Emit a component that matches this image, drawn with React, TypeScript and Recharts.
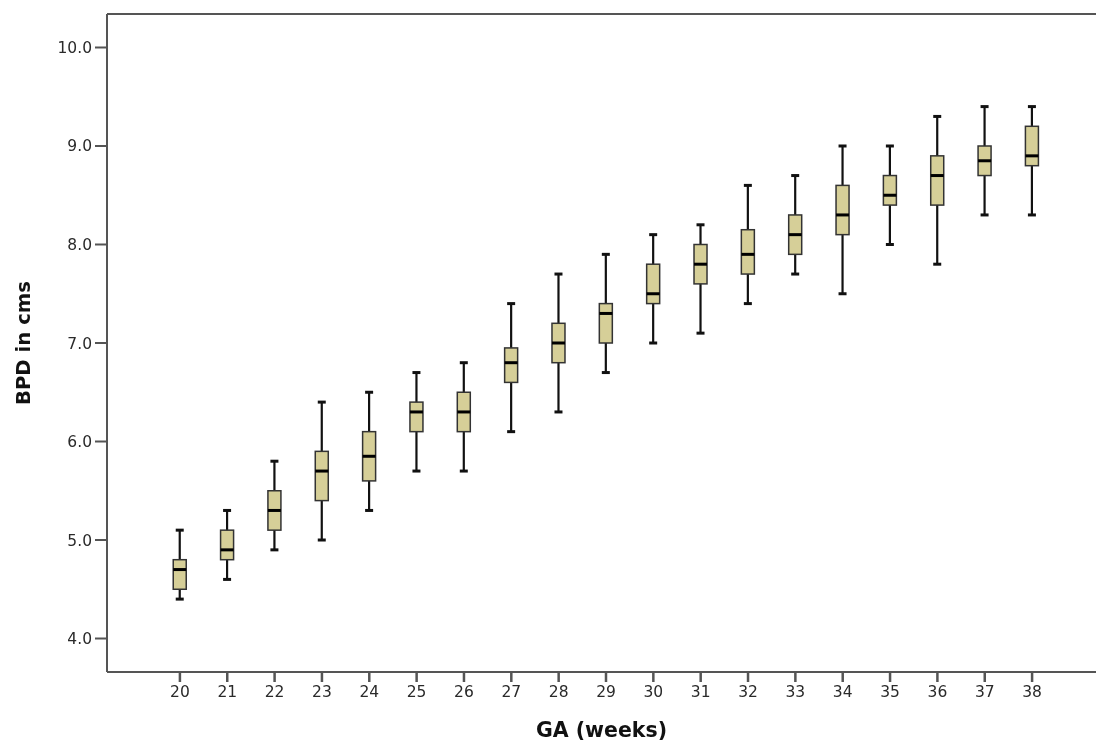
import { Bar, ComposedChart, ReferenceLine, XAxis, YAxis } from "recharts";

// gestational age in weeks, one box per week
const weeks = [20, 21, 22, 23, 24, 25, 26, 27, 28, 29, 30, 31, 32, 33, 34, 35, 36, 37, 38];
const whiskerLow = [4.4, 4.6, 4.9, 5.0, 5.3, 5.7, 5.7, 6.1, 6.3, 6.7, 7.0, 7.1, 7.4, 7.7, 7.5, 8.0, 7.8, 8.3, 8.3];
const q1 = [4.5, 4.8, 5.1, 5.4, 5.6, 6.1, 6.1, 6.6, 6.8, 7.0, 7.4, 7.6, 7.7, 7.9, 8.1, 8.4, 8.4, 8.7, 8.8];
const median = [4.7, 4.9, 5.3, 5.7, 5.85, 6.3, 6.3, 6.8, 7.0, 7.3, 7.5, 7.8, 7.9, 8.1, 8.3, 8.5, 8.7, 8.85, 8.9];
const q3 = [4.8, 5.1, 5.5, 5.9, 6.1, 6.4, 6.5, 6.95, 7.2, 7.4, 7.8, 8.0, 8.15, 8.3, 8.6, 8.7, 8.9, 9.0, 9.2];
const whiskerHigh = [5.1, 5.3, 5.8, 6.4, 6.5, 6.7, 6.8, 7.4, 7.7, 7.9, 8.1, 8.2, 8.6, 8.7, 9.0, 9.0, 9.3, 9.4, 9.4];
const yTicks = [4, 5, 6, 7, 8, 9, 10];
const yDomain = [3.66, 10.34];
const xDomain = [18.46, 39.35];

const data = weeks.map((week, i) => ({
  week,
  min: whiskerLow[i],
  q1: q1[i],
  median: median[i],
  q3: q3[i],
  max: whiskerHigh[i],
}));

const axisColor = "#555";
const textColor = "#2a2a2a";
const boxFill = "#d6cf98";
const font = "'DejaVu Sans', Verdana, sans-serif";

// the bar spans min..max; inner values are placed with the same pixel scale
function BoxShape(props: any) {
  const { x, y, width, height, payload } = props;
  const { min, q1: lo, median: mid, q3: hi, max } = payload;
  const perUnit = height / (max - min);
  const yOf = (v: number) => y + (max - v) * perUnit;
  const cx = x + width / 2;
  const cap = 4;
  return (
    <g>
      <line x1={cx} x2={cx} y1={yOf(max)} y2={yOf(min)} stroke="#111" strokeWidth={2.2} />
      <line x1={cx - cap} x2={cx + cap} y1={yOf(max)} y2={yOf(max)} stroke="#111" strokeWidth={3} />
      <line x1={cx - cap} x2={cx + cap} y1={yOf(min)} y2={yOf(min)} stroke="#111" strokeWidth={3} />
      <rect
        x={x}
        y={yOf(hi)}
        width={width}
        height={yOf(lo) - yOf(hi)}
        fill={boxFill}
        stroke="#333"
        strokeWidth={1.5}
      />
      <line x1={x} x2={x + width} y1={yOf(mid)} y2={yOf(mid)} stroke="#000" strokeWidth={3} />
    </g>
  );
}

export default function App() {
  return (
    <div style={{ position: "fixed", left: 0, top: 0, width: 1096, height: 742, fontFamily: font }}>
      <ComposedChart
        width={1096}
        height={742}
        data={data}
        margin={{ top: 14, right: 0, bottom: 0, left: 0 }}
        style={{ fontFamily: font }}
      >
        <XAxis
          dataKey="week"
          type="number"
          domain={xDomain}
          ticks={weeks}
          allowDataOverflow
          height={70}
          stroke={axisColor}
          axisLine={{ stroke: axisColor, strokeWidth: 2 }}
          tickLine={{ stroke: axisColor, strokeWidth: 2.5 }}
          tickSize={10}
          tickMargin={4}
          tick={{ fill: textColor, fontSize: 15.5, fontFamily: font }}
          label={{
            value: "GA (weeks)",
            position: "insideBottom",
            offset: 5,
            style: { fontSize: 20.5, fontWeight: "bold", fill: "#111", fontFamily: font },
          }}
        />
        <YAxis
          type="number"
          domain={yDomain}
          ticks={yTicks}
          allowDataOverflow
          width={107}
          axisLine={{ stroke: axisColor, strokeWidth: 2 }}
          tickLine={{ stroke: axisColor, strokeWidth: 2 }}
          tickSize={12}
          tickMargin={3}
          tick={{ fill: textColor, fontSize: 15.5, fontFamily: font }}
          tickFormatter={(v: number) => v.toFixed(1)}
          label={{
            value: "BPD in cms",
            angle: -90,
            position: "center",
            dx: -30,
            style: { fontSize: 19.7, fontWeight: "bold", fill: "#111", fontFamily: font },
          }}
        />
        {/* frame line along the top of the plot */}
        <ReferenceLine y={yDomain[1]} stroke={axisColor} strokeWidth={2} ifOverflow="visible" />
        <Bar
          dataKey={(d: any) => [d.min, d.max]}
          barSize={13}
          shape={BoxShape}
          isAnimationActive={false}
        />
      </ComposedChart>
    </div>
  );
}
